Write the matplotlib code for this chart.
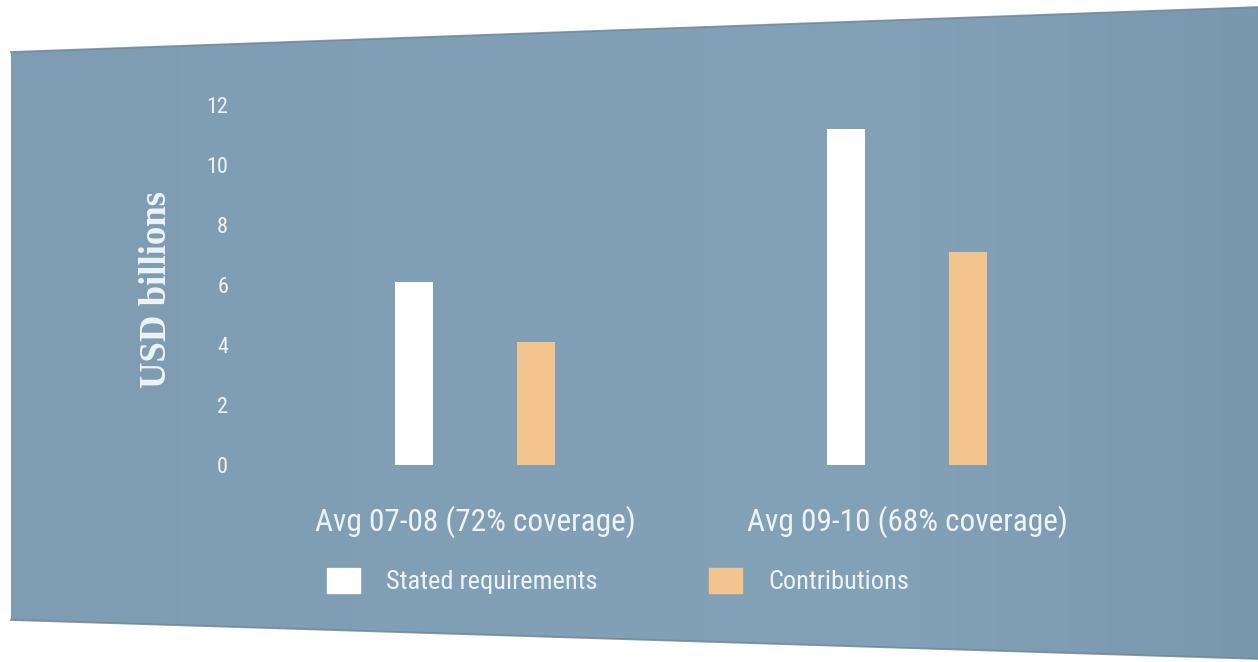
import os
import matplotlib
matplotlib.use("Agg")
import matplotlib.pyplot as plt
import numpy as np
from matplotlib import font_manager
from matplotlib.font_manager import FontProperties
from matplotlib.patches import Polygon, Patch

# ---- data -------------------------------------------------------------
groups = ["Avg 07-08 (72% coverage)", "Avg 09-10 (68% coverage)"]
series_names = ["Stated requirements", "Contributions"]
requirements = [6.1, 11.2]
contributions = [4.1, 7.1]
y_ticks = [0, 2, 4, 6, 8, 10, 12]
y_label = "USD billions"

# ---- style ------------------------------------------------------------
W, H = 1258, 662
TEXT = "#eef3f7"
REQ_COLOR = "#fefefe"
CON_COLOR = "#f4c48f"


def condensed_font():
    """Pick a narrow sans face if one is installed."""
    files = {os.path.basename(f.fname): f.fname for f in font_manager.fontManager.ttflist}
    preferred = [
        "NotoSans-ExtraCondensed.ttf",
        "NotoSans-Condensed.ttf",
        "RobotoCondensed-Regular.ttf",
        "DejaVuSansCondensed.ttf",
        "LiberationSansNarrow-Regular.ttf",
        "OpenSans-CondLight.ttf",
    ]
    for name in preferred:
        if name in files:
            return files[name]
    for f in font_manager.fontManager.ttflist:
        if ("Condensed" in f.name or "Narrow" in f.name) and f.weight in (400, "normal", "regular") \
                and f.style == "normal":
            return f.fname
    return None


cond_path = condensed_font()


def fp(size):
    if cond_path:
        return FontProperties(fname=cond_path, size=size)
    return FontProperties(family="DejaVu Sans", size=size)


fig = plt.figure(figsize=(W / 100, H / 100), dpi=100, facecolor="white")

# ---- slanted backdrop panel --------------------------------------------
bg = fig.add_axes([0, 0, 1, 1], zorder=0)
bg.set_xlim(0, W)
bg.set_ylim(H, 0)
bg.axis("off")
corners = [(11, 52), (W + 2, 7), (W + 2, 659), (11, 620)]
panel = Polygon(corners, closed=True, facecolor="none", edgecolor="none")
bg.add_patch(panel)
xs = np.linspace(0, 1, 400)
left = np.array([0x7e, 0x9d, 0xb2]) / 255
mid = np.array([0x83, 0xa2, 0xb7]) / 255
right = np.array([0x7a, 0x98, 0xad]) / 255
wts = np.clip(xs / 0.7, 0, 1)[:, None]
row = left * (1 - wts) + mid * wts
tail = np.clip((xs - 0.7) / 0.3, 0, 1)[:, None]
row = row * (1 - tail) + right * tail
grad = np.repeat(row[None, :, :], 2, axis=0)
im = bg.imshow(grad, extent=(0, W + 2, 662, 0), aspect="auto", interpolation="bilinear")
im.set_clip_path(panel)
bg.plot([11, W + 2], [52, 7], color="#6a8394", lw=1.3, alpha=0.8)
bg.plot([11, W + 2], [620, 659], color="#6a8394", lw=1.3, alpha=0.8)

# ---- bar chart ---------------------------------------------------------
ax_left, ax_right, ax_bottom, ax_top = 240, 1120, 465, 105
ax = fig.add_axes([ax_left / W, 1 - ax_bottom / H,
                   (ax_right - ax_left) / W, (ax_bottom - ax_top) / H], zorder=2)
ax.set_facecolor("none")

x = np.arange(len(groups))
offset, width = 0.141, 0.088
ax.bar(x - offset, requirements, width, color=REQ_COLOR, label=series_names[0])
ax.bar(x + offset, contributions, width, color=CON_COLOR, label=series_names[1])

ax.set_xlim(-0.544, 1.493)
ax.set_ylim(0, 12)
ax.set_yticks(y_ticks)
ax.set_yticklabels([str(t) for t in y_ticks])
ax.set_xticks(x)
ax.set_xticklabels(groups)
for s in ax.spines.values():
    s.set_visible(False)
ax.tick_params(axis="y", length=0, pad=8.5, colors=TEXT)
ax.tick_params(axis="x", length=0, pad=29, colors=TEXT)
for lab in ax.get_yticklabels():
    lab.set_fontproperties(fp(16))
for lab in ax.get_xticklabels():
    lab.set_fontproperties(fp(22.5))

ax.set_ylabel(y_label, family="Liberation Serif", weight="bold", fontsize=26.5,
              color=TEXT, va="center")
ax.yaxis.set_label_coords((157 - ax_left) / (ax_right - ax_left),
                          (ax_bottom - 290) / (ax_bottom - ax_top))

fig.legend(handles=[Patch(color=REQ_COLOR), Patch(color=CON_COLOR)],
           labels=series_names, ncol=2, frameon=False,
           loc="center left", bbox_to_anchor=(327 / W, 1 - 581 / H),
           borderpad=0, borderaxespad=0, prop=fp(19),
           handlelength=1.25, handleheight=1.1, handletextpad=1.0,
           columnspacing=4.2, labelcolor=TEXT)

fig.savefig("out.png", dpi=100, facecolor="white")
